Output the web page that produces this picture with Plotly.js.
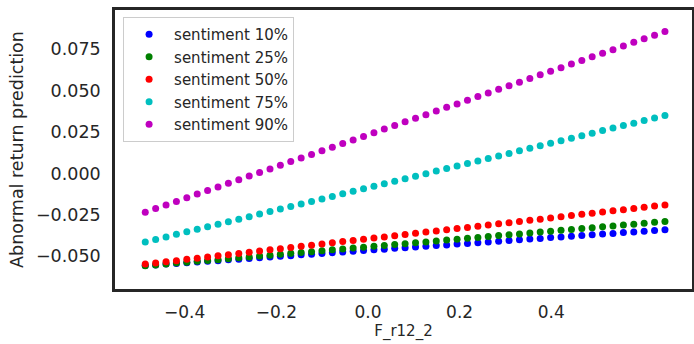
<!DOCTYPE html>
<html>
<head>
<meta charset="utf-8">
<script src="https://cdn.plot.ly/plotly-3.0.1.min.js"></script>
<style>html,body{margin:0;padding:0;background:#fff;}#chart{width:694px;height:344px;}</style>
</head>
<body>
<div id="chart"></div>
<script>
// F_r12_2 grid (x values)
const xVals = [-0.4860,-0.4633,-0.4406,-0.4180,-0.3953,-0.3726,-0.3499,-0.3272,-0.3046,-0.2819,
  -0.2592,-0.2365,-0.2138,-0.1912,-0.1685,-0.1458,-0.1231,-0.1004,-0.0778,-0.0551,
  -0.0324,-0.0097,0.0130,0.0356,0.0583,0.0810,0.1037,0.1264,0.1490,0.1717,
  0.1944,0.2171,0.2398,0.2624,0.2851,0.3078,0.3305,0.3532,0.3758,0.3985,
  0.4212,0.4439,0.4666,0.4892,0.5119,0.5346,0.5573,0.5800,0.6026,0.6253,0.6480];

const sent10 = [-0.0556,-0.0552,-0.0547,-0.0543,-0.0539,-0.0534,-0.0530,-0.0526,-0.0521,-0.0517,
  -0.0513,-0.0508,-0.0504,-0.0500,-0.0496,-0.0491,-0.0487,-0.0483,-0.0478,-0.0474,
  -0.0470,-0.0465,-0.0461,-0.0457,-0.0452,-0.0448,-0.0444,-0.0439,-0.0435,-0.0431,
  -0.0426,-0.0422,-0.0418,-0.0413,-0.0409,-0.0405,-0.0400,-0.0396,-0.0392,-0.0387,
  -0.0383,-0.0379,-0.0375,-0.0370,-0.0366,-0.0362,-0.0357,-0.0353,-0.0349,-0.0344,-0.0340];

const sent25 = [-0.0557,-0.0552,-0.0546,-0.0541,-0.0536,-0.0530,-0.0525,-0.0520,-0.0514,-0.0509,
  -0.0504,-0.0498,-0.0493,-0.0488,-0.0482,-0.0477,-0.0472,-0.0466,-0.0461,-0.0456,
  -0.0450,-0.0445,-0.0440,-0.0434,-0.0429,-0.0424,-0.0418,-0.0413,-0.0407,-0.0402,
  -0.0397,-0.0391,-0.0386,-0.0381,-0.0375,-0.0370,-0.0365,-0.0359,-0.0354,-0.0349,
  -0.0343,-0.0338,-0.0333,-0.0327,-0.0322,-0.0317,-0.0311,-0.0306,-0.0301,-0.0295,-0.0290];

const sent50 = [-0.0547,-0.0540,-0.0533,-0.0526,-0.0518,-0.0511,-0.0504,-0.0497,-0.0490,-0.0483,
  -0.0476,-0.0468,-0.0461,-0.0454,-0.0447,-0.0440,-0.0433,-0.0426,-0.0418,-0.0411,
  -0.0404,-0.0397,-0.0390,-0.0383,-0.0376,-0.0369,-0.0361,-0.0354,-0.0347,-0.0340,
  -0.0333,-0.0326,-0.0319,-0.0311,-0.0304,-0.0297,-0.0290,-0.0283,-0.0276,-0.0269,
  -0.0261,-0.0254,-0.0247,-0.0240,-0.0233,-0.0226,-0.0219,-0.0211,-0.0204,-0.0197,-0.0190];

const sent75 = [-0.0413,-0.0398,-0.0383,-0.0367,-0.0352,-0.0337,-0.0322,-0.0306,-0.0291,-0.0276,
  -0.0261,-0.0245,-0.0230,-0.0215,-0.0200,-0.0184,-0.0169,-0.0154,-0.0139,-0.0123,
  -0.0108,-0.0093,-0.0078,-0.0062,-0.0047,-0.0032,-0.0017,-0.0002,0.0014,0.0029,
  0.0044,0.0059,0.0075,0.0090,0.0105,0.0120,0.0136,0.0151,0.0166,0.0181,
  0.0197,0.0212,0.0227,0.0242,0.0258,0.0273,0.0288,0.0303,0.0319,0.0334,0.0349];

const sent90 = [-0.0234,-0.0212,-0.0190,-0.0169,-0.0147,-0.0125,-0.0103,-0.0082,-0.0060,-0.0038,
  -0.0016,0.0006,0.0027,0.0049,0.0071,0.0093,0.0114,0.0136,0.0158,0.0180,
  0.0202,0.0223,0.0245,0.0267,0.0289,0.0311,0.0332,0.0354,0.0376,0.0398,
  0.0419,0.0441,0.0463,0.0485,0.0507,0.0528,0.0550,0.0572,0.0594,0.0615,
  0.0637,0.0659,0.0681,0.0703,0.0724,0.0746,0.0768,0.0790,0.0811,0.0833,0.0855];

const seriesNames = ['sentiment 10%','sentiment 25%','sentiment 50%','sentiment 75%','sentiment 90%'];
const seriesData = [sent10, sent25, sent50, sent75, sent90];
const seriesColors = ['#0000ff','#008000','#ff0000','#00bfbf','#bf00bf'];

const xTickVals = [-0.4,-0.2,0.0,0.2,0.4];
const xTickText = ['\u22120.4','\u22120.2','0.0','0.2','0.4'];
const yTickVals = [-0.050,-0.025,0.000,0.025,0.050,0.075];
const yTickText = ['\u22120.050','\u22120.025','0.000','0.025','0.050','0.075'];

const traces = seriesData.map((ys, i) => ({
  type: 'scatter', mode: 'markers', x: xVals, y: ys, name: seriesNames[i],
  marker: {color: seriesColors[i], size: 7}
}));

const font = {family: 'DejaVu Sans, sans-serif', color: '#262626'};
const layout = {
  width: 694, height: 344,
  margin: {l: 115, r: 2, t: 10, b: 55},
  paper_bgcolor: '#ffffff', plot_bgcolor: '#ffffff',
  showlegend: true,
  font: font,
  xaxis: {
    range: [-0.552, 0.707], tickvals: xTickVals, ticktext: xTickText,
    showgrid: false, zeroline: false,
    showline: true, mirror: true, linecolor: '#262626', linewidth: 2.8,
    ticks: 'outside', ticklen: 6, tickcolor: 'rgba(0,0,0,0)',
    tickfont: {family: font.family, size: 17, color: '#262626'},
    title: {text: 'F_r12_2', font: {family: font.family, size: 15, color: '#262626'}, standoff: 4}
  },
  yaxis: {
    range: [-0.0697, 0.0985], tickvals: yTickVals, ticktext: yTickText,
    showgrid: false, zeroline: false,
    showline: true, mirror: true, linecolor: '#262626', linewidth: 2.8,
    ticks: 'outside', ticklen: 8, tickcolor: 'rgba(0,0,0,0)',
    tickfont: {family: font.family, size: 17.5, color: '#262626'},
    title: {text: 'Abnormal return prediction', font: {family: font.family, size: 17.5, color: '#262626'}, standoff: 8}
  },
  legend: {
    x: 0.014, y: 0.975, xanchor: 'left', yanchor: 'top',
    bgcolor: 'rgba(255,255,255,0.8)', bordercolor: '#cccccc', borderwidth: 1,
    font: {family: font.family, size: 15, color: '#262626'},
    itemwidth: 40, tracegroupgap: 0
  }
};

Plotly.newPlot('chart', traces, layout, {displayModeBar: false, staticPlot: true});
</script>
</body>
</html>
